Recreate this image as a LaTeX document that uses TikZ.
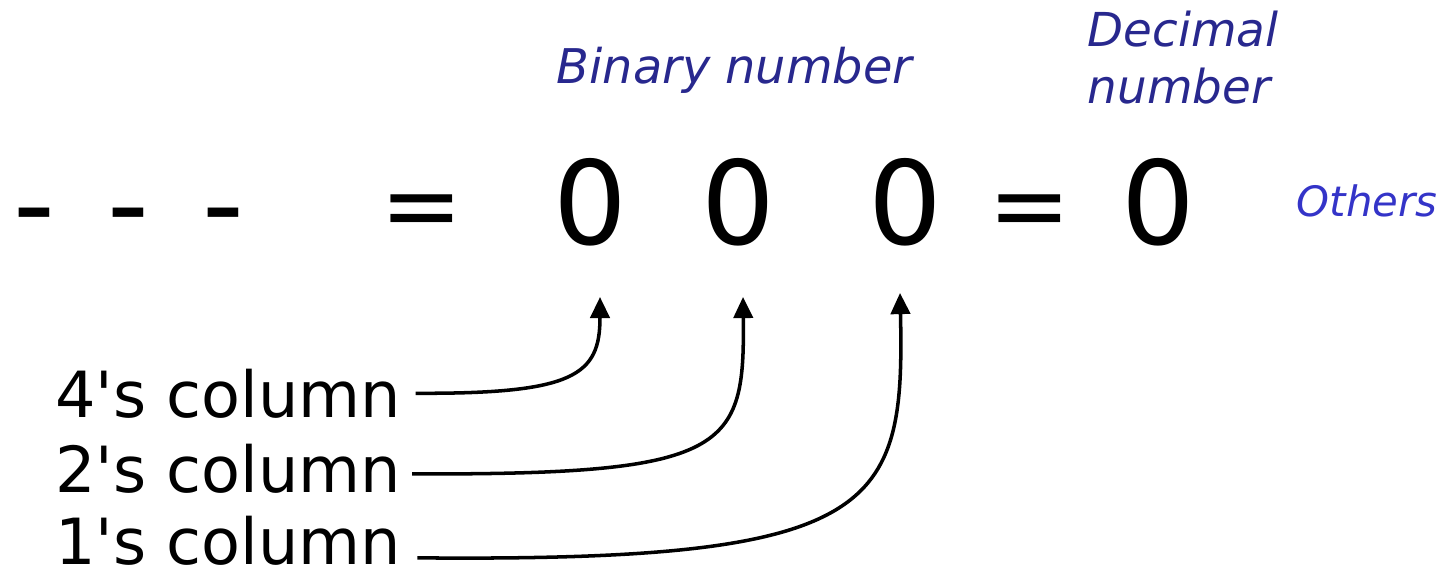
\documentclass[tikz,border=0pt]{standalone}
\usepackage{fontspec}
\setmainfont{DejaVu Sans}
\usetikzlibrary{arrows.meta,positioning}
\usepackage{xcolor}
\definecolor{Indigo}{HTML}{28288E}
\definecolor{Royal}{HTML}{3434C8}

\begin{document}
\begin{tikzpicture}[x=0.01cm,y=-0.01cm,
    big/.style={font=\fontsize{33}{33}\selectfont,inner sep=0pt,anchor=base},
    colname/.style={font=\fontsize{18.1}{20}\selectfont,inner xsep=3pt,inner ysep=0pt,anchor=base west},
    note/.style={font=\fontsize{13.6}{16.2}\selectfont\itshape,text=Indigo,inner sep=0pt},
    arr/.style={-{Triangle[length=6pt,width=5.5pt]},line width=1pt}]
    \useasboundingbox (0,0) rectangle (1454,573);
    % top line: - - - = 0 0 0 = 0
    \foreach \i/\x in {1/34,2/128,3/223}{
      \node[big] (dash\i) at (\x,245) {-};
    }
    \node[big,font=\fontsize{28}{28}\selectfont] (eqA) at (422,239) {=};
    \foreach \i/\x in {1/590,2/738,3/905}{
      \node[big] (zero\i) at (\x,245) {0};
    }
    \node[big,font=\fontsize{28}{28}\selectfont] (eqB) at (1030,239) {=};
    \node[big] (dec) at (1158,245) {0};
    % blue notes
    \node[note,anchor=base west] (binary) at (556,84) {Binary number};
    \node[note,anchor=north west,align=left,font=\fontsize{13.3}{16.2}\selectfont\itshape] (decimal) at (1087,10) {Decimal\\number};
    \node[note,anchor=base west,text=Royal,font=\fontsize{11.9}{14}\selectfont\itshape] (others) at (1296,217) {Others};
    % column labels
    \node[colname] (lab4) at (44,417) {4\textquotesingle s column};
    \node[colname] (lab2) at (44,492) {2\textquotesingle s column};
    \node[colname] (lab1) at (44,564) {1\textquotesingle s column};
    \coordinate (tip1) at (600,297);
    \coordinate (tip2) at (743,297);
    \coordinate (tip3) at (900,293);
    \draw[arr] ([xshift=1pt]lab4.east) .. controls (575,394) and (600,375) .. (tip1);
    \draw[arr] ([yshift=-1.6pt]lab2.east) .. controls (730,475) and (745,450) .. (tip2);
    \draw[arr] ([xshift=1.5pt,yshift=-5pt]lab1.east) .. controls (880,562) and (905,510) .. (tip3);
  \end{tikzpicture}
\end{document}
